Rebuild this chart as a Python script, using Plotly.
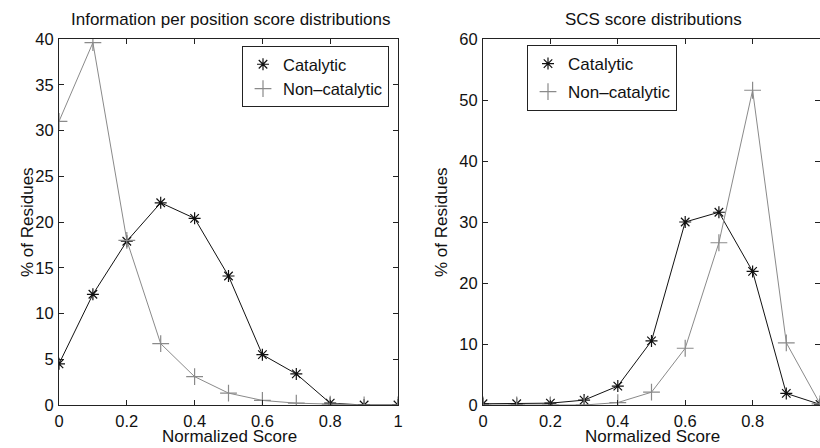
import plotly.graph_objects as go

scores = [0, 0.1, 0.2, 0.3, 0.4, 0.5, 0.6, 0.7, 0.8, 0.9, 1.0]

info_catalytic = [4.5, 12.1, 17.9, 22.1, 20.4, 14.1, 5.5, 3.4, 0.2, 0.0, 0.0]
info_noncatalytic = [31.0, 39.6, 18.0, 6.7, 3.1, 1.3, 0.5, 0.2, 0.1, 0.0, 0.0]

scs_catalytic = [0.2, 0.2, 0.3, 0.8, 3.1, 10.5, 30.0, 31.6, 21.9, 1.9, 0.1]
scs_noncatalytic = [0.0, 0.0, 0.0, 0.0, 0.4, 2.1, 9.3, 26.6, 51.6, 10.2, 0.2]

titles = ["Information per position score distributions", "SCS score distributions"]
x_ticks = [0, 0.2, 0.4, 0.6, 0.8, 1]
x_ticktext = ["0", "0.2", "0.4", "0.6", "0.8", "1"]

W, H = 820, 448
FONT = "Liberation Sans, Arial, Helvetica, sans-serif"
CAT_COLOR = "#111111"
NON_COLOR = "#8a8a8a"
TXT = "#111111"

fig = go.Figure()

def add_pair(xa, ya, cat, non, legend, grouped):
    fig.add_trace(go.Scatter(
        x=scores, y=cat, xaxis=xa, yaxis=ya, mode="lines", showlegend=False,
        line=dict(color=CAT_COLOR, width=1), hoverinfo="skip"))
    fig.add_trace(go.Scatter(
        x=scores, y=non, xaxis=xa, yaxis=ya, mode="lines", showlegend=False,
        line=dict(color=NON_COLOR, width=1), hoverinfo="skip"))
    fig.add_trace(go.Scatter(
        x=scores, y=cat, xaxis=xa, yaxis=ya, mode="markers", name="Catalytic",
        legend=legend, legendgroup=(legend + "a") if grouped else None,
        marker=dict(symbol="asterisk-open", size=10, color=CAT_COLOR,
                    line=dict(color=CAT_COLOR, width=1.2))))
    fig.add_trace(go.Scatter(
        x=scores, y=non, xaxis=xa, yaxis=ya, mode="markers", name="Non\u2013catalytic",
        legend=legend, legendgroup=(legend + "b") if grouped else None,
        marker=dict(symbol="cross-thin-open", size=12, color=NON_COLOR,
                    line=dict(color=NON_COLOR, width=1.2))))

add_pair("x", "y", info_catalytic, info_noncatalytic, "legend", False)
add_pair("x2", "y2", scs_catalytic, scs_noncatalytic, "legend2", True)

def px_x(p):
    return p / W

def px_y(p):
    return (H - p) / H

ydom = [px_y(405), px_y(39)]

axis_common = dict(
    showline=True, linecolor="#222222", linewidth=1, mirror="ticks",
    ticks="inside", ticklen=5, tickcolor="#222222", tickwidth=1,
    showgrid=False, zeroline=False, automargin=False,
    tickfont=dict(family=FONT, size=16.5, color=TXT),
)

fig.update_layout(
    template="none",
    width=W, height=H,
    margin=dict(l=0, r=0, t=0, b=0, autoexpand=False),
    paper_bgcolor="white", plot_bgcolor="white",
    font=dict(family=FONT, color=TXT),
    xaxis=dict(domain=[px_x(59), px_x(398)], range=[0, 1], tickvals=x_ticks,
               ticktext=x_ticktext, anchor="y", ticklabelstandoff=1, **axis_common),
    yaxis=dict(domain=ydom, range=[0, 40], tickvals=[0, 5, 10, 15, 20, 25, 30, 35, 40],
               anchor="x", ticklabelstandoff=1, **axis_common),
    xaxis2=dict(domain=[px_x(483), 1.0], range=[0, 1], tickvals=x_ticks,
                ticktext=x_ticktext, anchor="y2", ticklabelstandoff=1, **axis_common),
    yaxis2=dict(domain=ydom, range=[0, 60], tickvals=[0, 10, 20, 30, 40, 50, 60],
                anchor="x2", ticklabelstandoff=1, **axis_common),
    legend=dict(x=px_x(389), y=px_y(46), xanchor="right", yanchor="top",
                bgcolor="white", bordercolor="#222222", borderwidth=1,
                font=dict(family=FONT, size=16.5, color=TXT),
                tracegroupgap=0, itemwidth=30),
    legend2=dict(x=px_x(677), y=px_y(45), xanchor="right", yanchor="top",
                 bgcolor="white", bordercolor="#222222", borderwidth=1,
                 font=dict(family=FONT, size=17, color=TXT),
                 tracegroupgap=3, itemwidth=30),
)

def ann(text, x, y, angle=0):
    return dict(text=text, x=px_x(x), y=px_y(y), xref="paper", yref="paper",
                xanchor="center", yanchor="middle", textangle=angle,
                showarrow=False, font=dict(family=FONT, size=17, color=TXT))

annotations = [
    ann(titles[0], 230, 20),
    ann(titles[1], 653, 20),
    ann("Normalized Score", 229, 436.5),
    ann("Normalized Score", 652, 436.5),
    ann("% of Residues", 27, 222, -90),
    ann("% of Residues", 441, 222, -90),
]
fig.update_layout(annotations=annotations)

fig.write_html("out.html")
